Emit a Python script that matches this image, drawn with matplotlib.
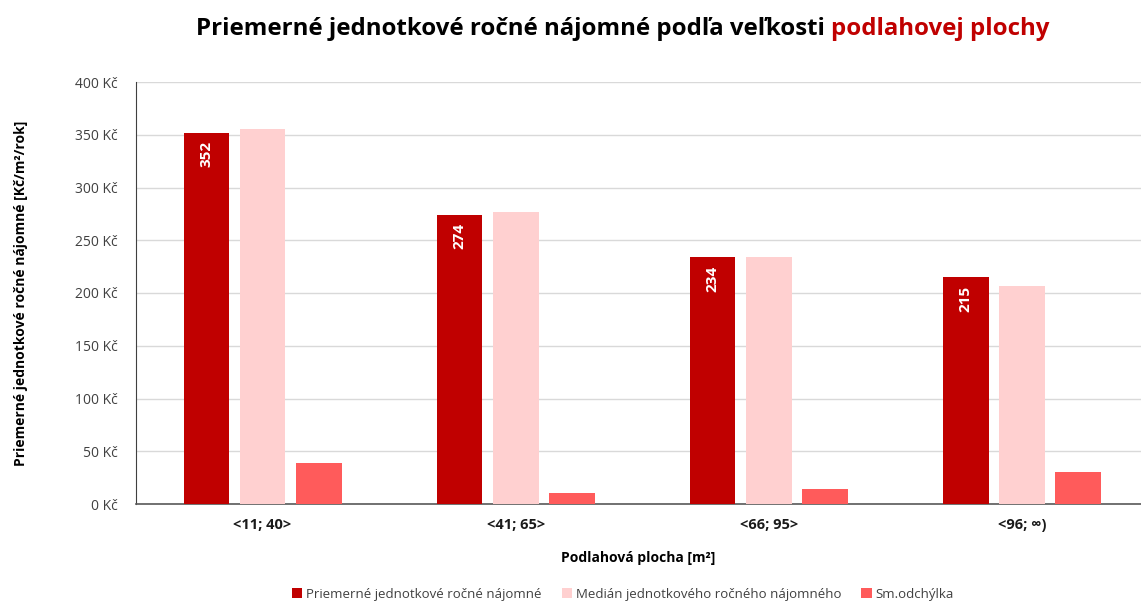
import matplotlib
matplotlib.use("Agg")
import matplotlib.pyplot as plt
import numpy as np

plt.rcParams["font.family"] = ["Open Sans", "DejaVu Sans"]

categories = ["<11; 40>", "<41; 65>", "<66; 95>", "<96; \u221e)"]
priemer = [352, 274, 234, 215]
median = [355, 277, 234, 207]
odchylka = [39, 10, 14, 30]

series_names = [
    "Priemerné jednotkové ročné nájomné",
    "Medián jednotkového ročného nájomného",
    "Sm.odchýlka",
]
colors = ["#C00000", "#FFD0D0", "#FF5B5B"]
y_ticks = [0, 50, 100, 150, 200, 250, 300, 350, 400]

fig = plt.figure(figsize=(11.41, 6.01), dpi=100)
ax = fig.add_axes([136 / 1141, 1 - 504 / 601, 1 - 136 / 1141, 422 / 601])

x = np.arange(len(categories))
width = 0.18
step = 0.222
for i, (vals, name, col) in enumerate(zip([priemer, median, odchylka], series_names, colors)):
    bars = ax.bar(x + (i - 1) * step, vals, width, color=col, label=name, zorder=3)
    if i == 0:
        for b, v in zip(bars, vals):
            ax.text(b.get_x() + b.get_width() / 2, v - 8, str(v), rotation=90,
                    ha="center", va="top", color="white", fontsize=11,
                    fontweight="bold", zorder=4)

ax.set_xlim(-0.5, 3.47)
ax.set_ylim(0, 400)
ax.set_yticks(y_ticks)
ax.set_yticklabels([f"{v} Kč" for v in y_ticks], fontsize=10, color="#404040")
ax.set_xticks(x)
ax.set_xticklabels(categories, fontsize=10.5, fontweight="bold", color="#1a1a1a")
ax.tick_params(axis="y", length=0, pad=13)
ax.tick_params(axis="x", length=0, pad=10)
ax.grid(axis="y", color="#D9D9D9", linewidth=1, zorder=0)

for s in ["top", "right"]:
    ax.spines[s].set_visible(False)
ax.spines["left"].set_color("#404040")
ax.spines["left"].set_linewidth(0.8)
ax.spines["bottom"].set_color("#595959")
ax.spines["bottom"].set_linewidth(1.2)

ax.set_xlabel("Podlahová plocha [m²]", fontsize=10, fontweight="bold", labelpad=14)
ax.set_ylabel("Priemerné jednotkové ročné nájomné [Kč/m²/rok]", fontsize=10,
              fontweight="bold", labelpad=34)

ax.legend(loc="lower center", bbox_to_anchor=((623 - 136) / 1005, -0.258), ncol=3,
          frameon=False, fontsize=9.5, handlelength=0.8, handleheight=0.8,
          columnspacing=1.5, handletextpad=0.3, labelcolor="#404040")

# two-colour title
t1 = fig.text(196 / 1141, 1 - 29 / 601, "Priemerné jednotkové ročné nájomné podľa veľkosti ",
              fontsize=17.3, fontweight="bold", ha="left", va="center", color="black")
fig.canvas.draw()
bb = t1.get_window_extent()
fig.text(bb.x1 / fig.bbox.width, 1 - 29 / 601, "podlahovej plochy",
         fontsize=17.3, fontweight="bold", ha="left", va="center", color="#C00000")

fig.savefig("out.png", dpi=100)
